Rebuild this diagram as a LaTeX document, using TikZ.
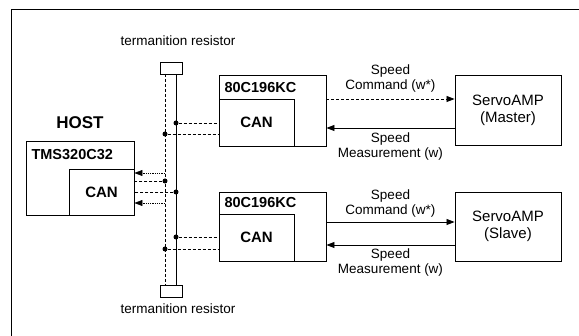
\documentclass[tikz,border=0pt]{standalone}
\usepackage{fontspec}
\setmainfont{Liberation Sans}
\usetikzlibrary{arrows.meta}

\begin{document}
\begin{tikzpicture}[x=1pt,y=-1pt,every node/.style={font=\fontsize{13.5}{15}\selectfont},
  bx/.style={draw,line width=0.9pt,inner sep=0pt},
  ttl/.style={font=\fontsize{14.5}{16}\selectfont\bfseries,anchor=west},
  res/.style={draw,line width=0.8pt,minimum width=22pt,minimum height=12pt,inner sep=0pt},
  bus/.style={line width=0.9pt},
  stub/.style={line width=0.9pt,densely dashed},
  dt/.style={circle,fill,inner sep=0pt,minimum size=5pt},
  sig/.style={line width=0.8pt,-{Triangle[length=8pt,width=6pt]}},
  lab/.style={align=center}]
\useasboundingbox (0,0) rectangle (579,336);
\draw[line width=0.8pt] (11,336) -- (11,9) -- (579,9);
\def\xl{165}\def\xr{176}
%------------- CAN bus with termination resistors
\node[res] (rtop) at (171,68) {};
\node[res] (rbot) at (171,291) {};
\node (ltop) at (178,41) {termanition resistor};
\node (lbot) at (178,309) {termanition resistor};
\coordinate (btl) at (\xl,74); \coordinate (bbl) at (\xl,285);
\coordinate (btr) at (\xr,74); \coordinate (bbr) at (\xr,285);
\draw[bus,densely dashed] (btl) -- (bbl);
\draw[bus] (btr) -- (bbr);
%------------- HOST
\node[font=\fontsize{17}{18}\selectfont\bfseries] (hlab) at (80,123) {HOST};
\node[bx,minimum width=108pt,minimum height=74pt] (host) at (80,178) {};
\node[ttl] (htxt) at (28,155) {TMS320C32};
\node[bx,minimum width=65pt,minimum height=46pt,font=\fontsize{15}{16}\selectfont\bfseries] (hcan) at (101.5,192) {CAN};
\node[dt] (h1) at (\xl,181) {}; \node[dt] (h2) at (\xr,192) {};
\draw[stub] (h1) -- (h1 -| host.east);
\draw[stub] (h2) -- (h2 -| host.east);
\coordinate (ha) at (\xl,173); \coordinate (hb) at (\xl,203);
\draw[sig,densely dotted,line width=0.5pt] (ha) -- (ha -| host.east);
\draw[sig,densely dotted,line width=0.5pt] (hb) -- (hb -| host.east);
%------------- upper node: 80C196KC + ServoAMP (Master)
\node[bx,minimum width=107pt,minimum height=71pt] (mcA) at (272.5,110.5) {};
\node[ttl] (mcAt) at (221,88) {80C196KC};
\node[bx,minimum width=75pt,minimum height=47pt,font=\fontsize{15}{16}\selectfont\bfseries] (canA) at (256.5,122.5) {CAN};
\node[dt] (a1) at (\xr,123) {}; \node[dt] (a2) at (\xl,134) {};
\draw[stub] (a1) -- (a1 -| canA.west);
\draw[stub] (a2) -- (a2 -| canA.west);
\node[bx,minimum width=106pt,minimum height=70pt,lab,font=\fontsize{15}{17}\selectfont] (ampA) at (508,110.5) {ServoAMP\\(Master)};
\draw[sig,densely dashed] ([yshift=11.5pt]mcA.east) -- ([yshift=11.5pt]ampA.west)
  node[midway,above=3pt,lab] (cmdA) {Speed\\Command (w*)};
\draw[sig] ([yshift=-17.5pt]ampA.west) -- ([yshift=-17.5pt]mcA.east)
  node[midway,below=1pt,lab] (msA) {Speed\\Measurement (w)};
%------------- lower node: 80C196KC + ServoAMP (Slave)
\node[bx,minimum width=107pt,minimum height=69pt] (mcB) at (272.5,226.5) {};
\node[ttl] (mcBt) at (221,203) {80C196KC};
\node[bx,minimum width=75pt,minimum height=47pt,font=\fontsize{15}{16}\selectfont\bfseries] (canB) at (256.5,237.5) {CAN};
\node[dt] (b1) at (\xr,237) {}; \node[dt] (b2) at (\xl,249) {};
\draw[stub] (b1) -- (b1 -| canB.west);
\draw[stub] (b2) -- (b2 -| canB.west);
\node[bx,minimum width=106pt,minimum height=69pt,lab,font=\fontsize{15}{17}\selectfont] (ampB) at (508,226.5) {ServoAMP\\(Slave)};
\draw[sig] ([yshift=4.5pt]mcB.east) -- ([yshift=4.5pt]ampB.west)
  node[midway,above=1pt,lab] (cmdB) {Speed\\Command (w*)};
\draw[sig] ([yshift=-18.5pt]ampB.west) -- ([yshift=-18.5pt]mcB.east)
  node[midway,below=0pt,lab] (msB) {Speed\\Measurement (w)};
\end{tikzpicture}
\end{document}
